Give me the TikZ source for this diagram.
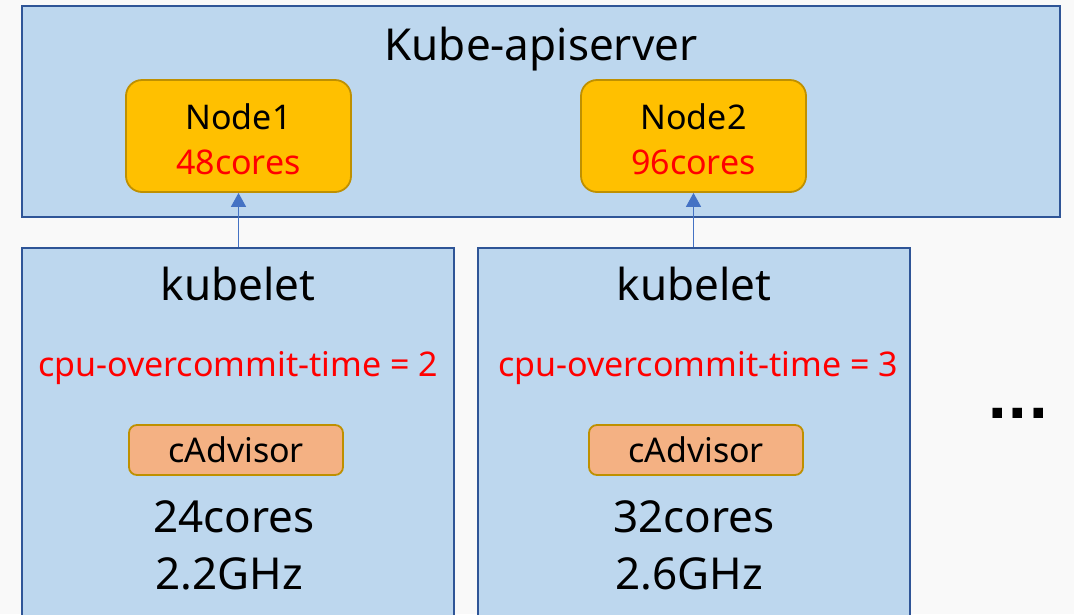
\documentclass[tikz,border=0pt]{standalone}
\usepackage{fontspec}
\setmainfont{Noto Sans}
\newfontfamily\dotfont{DejaVu Sans}
\usetikzlibrary{arrows.meta}
\definecolor{bluefill}{HTML}{BDD7EE}
\definecolor{blueline}{HTML}{2F5597}
\definecolor{goldfill}{HTML}{FFC000}
\definecolor{goldline}{HTML}{BF9000}
\definecolor{peach}{HTML}{F4B183}
\definecolor{arrowblue}{HTML}{4472C4}
\definecolor{redtxt}{HTML}{FF0000}
\definecolor{bg}{HTML}{F9F9F9}
\tikzset{
  bluebox/.style={draw=blueline, fill=bluefill, line width=2.2pt, inner sep=0pt},
  nodebox/.style={draw=goldline, fill=goldfill, line width=1.8pt, rounded corners=16pt, inner sep=0pt, minimum width=225pt, minimum height=112pt},
  advbox/.style={draw=goldline, fill=peach, line width=1.8pt, rounded corners=8pt, inner sep=0pt, minimum width=214pt, minimum height=50pt},
  txt/.style={anchor=base, inner sep=0pt},
  big/.style={txt, font=\fontsize{44}{50}\selectfont},
  mid/.style={txt, font=\fontsize{34}{40}\selectfont},
  red/.style={text=redtxt},
  up/.style={-{Triangle[length=14pt,width=15pt]}, draw=arrowblue, fill=arrowblue, line width=1.5pt},
}
\begin{document}
\begin{tikzpicture}[x=1pt,y=-1pt]
\useasboundingbox (0,0) rectangle (1074,614);
\fill[bg] (0,0) rectangle (1074,614);
\clip (0,0) rectangle (1074,614);
% top box
\node[bluebox, minimum width=1038pt, minimum height=211pt] (api) at (541,111.5) {};
\node[big] (apitxt) at (541,60) {Kube-apiserver};
\node[nodebox] (n1) at (238.5,136) {};
\node[mid] (n1a) at (238.5,129) {Node1};
\node[mid, red] (n1b) at (238.5,174) {48cores};
\node[nodebox] (n2) at (693.5,136) {};
\node[mid] (n2a) at (693.5,129) {Node2};
\node[mid, red] (n2b) at (693.5,174) {96cores};
% kubelet boxes
\node[bluebox, minimum width=432pt, minimum height=390pt, anchor=north] (k1) at (238,247) {};
\node[bluebox, minimum width=432pt, minimum height=390pt, anchor=north] (k2) at (694,247) {};
\node[big] (k1t) at (238,300) {kubelet};
\node[big] (k2t) at (694,300) {kubelet};
\node[mid, red] (k1c) at (238,376) {cpu-overcommit-time = 2};
\node[mid, red] (k2c) at (698,376) {cpu-overcommit-time = 3};
\node[advbox] (a1) at (236,450) {};
\node[mid] (a1t) at (236,462.5) {cAdvisor};
\node[advbox] (a2) at (696,450) {};
\node[mid] (a2t) at (696,462.5) {cAdvisor};
\node[big] (k1r) at (234,532.5) {24cores};
\node[big] (k1g) at (229,589) {2.2GHz};
\node[big] (k2r) at (694,532.5) {32cores};
\node[big] (k2g) at (689,589) {2.6GHz};
\node[txt, font=\dotfont\fontsize{54}{60}\bfseries] (dots) at (1018,418) {...};
% arrows
\draw[up] (k1.north -| n1.south) -- (n1.south);
\draw[up] (k2.north -| n2.south) -- (n2.south);
\end{tikzpicture}
\end{document}
